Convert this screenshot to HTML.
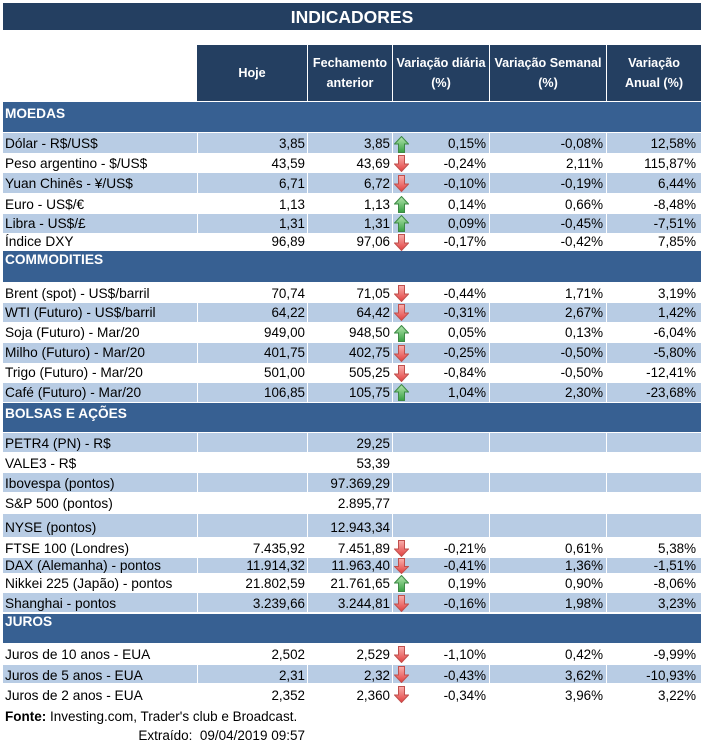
<!DOCTYPE html>
<html><head><meta charset="utf-8">
<style>
body{margin:0;width:704px;height:744px;background:#fff;position:relative;overflow:hidden;font-family:"Liberation Sans",sans-serif;}
.a{position:absolute}
.title{left:3px;top:3px;width:698px;height:27px;background:#243F61;color:#fff;font-weight:bold;font-size:17.5px;line-height:28px;text-align:center}
.hd{position:absolute;top:45px;height:56px;background:#243F61;color:#fff;font-weight:bold;font-size:12.6px;line-height:20px;text-align:center;display:flex;align-items:center;justify-content:center}
.sec{position:absolute;left:3px;width:698px;background:#376092}
.st{position:absolute;left:5px;color:#fff;font-weight:bold;font-size:13.7px;height:18px;line-height:18px}
.b{position:absolute;left:3px;width:698px;background:#B8CCE4}
.b i{position:absolute;top:0;bottom:0;width:1px;background:#fff}
.s1{left:194px}.s2{left:304px}.s3{left:389px}.s4{left:486px}.s5{left:603px}
.t{position:absolute;height:18px;line-height:18px;white-space:nowrap;font-size:13.4px;color:#000}
.l{left:5px;font-size:13.7px}
.c1{right:399px}.c2{right:314px}.c3{right:218px}.c4{right:101px}.c5{right:8px}
svg.ar{position:absolute;left:394px;width:15px}
</style></head><body>
<svg width="0" height="0" style="position:absolute">
<defs>
<linearGradient id="gg" x1="0" y1="0" x2="0" y2="1"><stop offset="0" stop-color="#B4E6AE"/><stop offset="1" stop-color="#37A043"/></linearGradient>
<linearGradient id="rg" x1="0" y1="0" x2="0" y2="1"><stop offset="0" stop-color="#F9B0AE"/><stop offset="1" stop-color="#E2403F"/></linearGradient>
</defs></svg>

<div class="a title">INDICADORES</div>

<div class="hd" style="left:197px;width:110px">Hoje</div>
<div class="hd" style="left:308px;width:84px">Fechamento<br>anterior</div>
<div class="hd" style="left:393px;width:96px">Variação diária<br>(%)</div>
<div class="hd" style="left:490px;width:116px">Variação Semanal<br>(%)</div>
<div class="hd" style="left:607px;width:94px">Variação<br>Anual (%)</div>

<!-- MOEDAS -->
<div class="sec" style="top:102px;height:30px"></div>
<div class="st" style="top:105px">MOEDAS</div>

<div class="b" style="top:133px;height:20px"><i class="s1"></i><i class="s2"></i><i class="s3"></i><i class="s4"></i><i class="s5"></i></div>
<div class="t l" style="top:135px">Dólar - R$/US$</div><div class="t c1" style="top:135px">3,85</div><div class="t c2" style="top:135px">3,85</div>
<svg class="ar" style="top:136px;height:17px" viewBox="0 0 15 17" preserveAspectRatio="none"><path d="M7.5 0.5 L14.5 8 L10.5 8 L10.5 16.5 L4.5 16.5 L4.5 8 L0.5 8 Z" fill="url(#gg)" stroke="#3E8A46" stroke-width="1"/></svg>
<div class="t c3" style="top:135px">0,15%</div><div class="t c4" style="top:135px">-0,08%</div><div class="t c5" style="top:135px">12,58%</div>

<div class="t l" style="top:155px">Peso argentino - $/US$</div><div class="t c1" style="top:155px">43,59</div><div class="t c2" style="top:155px">43,69</div>
<svg class="ar" style="top:155px;height:17px" viewBox="0 0 15 17" preserveAspectRatio="none"><path d="M4.5 0.5 L10.5 0.5 L10.5 9 L14.5 9 L7.5 16.5 L0.5 9 L4.5 9 Z" fill="url(#rg)" stroke="#C0504D" stroke-width="1"/></svg>
<div class="t c3" style="top:155px">-0,24%</div><div class="t c4" style="top:155px">2,11%</div><div class="t c5" style="top:155px">115,87%</div>

<div class="b" style="top:173px;height:20px"><i class="s1"></i><i class="s2"></i><i class="s3"></i><i class="s4"></i><i class="s5"></i></div>
<div class="t l" style="top:175px">Yuan Chinês - ¥/US$</div><div class="t c1" style="top:175px">6,71</div><div class="t c2" style="top:175px">6,72</div>
<svg class="ar" style="top:175px;height:17px" viewBox="0 0 15 17" preserveAspectRatio="none"><path d="M4.5 0.5 L10.5 0.5 L10.5 9 L14.5 9 L7.5 16.5 L0.5 9 L4.5 9 Z" fill="url(#rg)" stroke="#C0504D" stroke-width="1"/></svg>
<div class="t c3" style="top:175px">-0,10%</div><div class="t c4" style="top:175px">-0,19%</div><div class="t c5" style="top:175px">6,44%</div>

<div class="t l" style="top:196px">Euro - US$/€</div><div class="t c1" style="top:196px">1,13</div><div class="t c2" style="top:196px">1,13</div>
<svg class="ar" style="top:196px;height:17px" viewBox="0 0 15 17" preserveAspectRatio="none"><path d="M7.5 0.5 L14.5 8 L10.5 8 L10.5 16.5 L4.5 16.5 L4.5 8 L0.5 8 Z" fill="url(#gg)" stroke="#3E8A46" stroke-width="1"/></svg>
<div class="t c3" style="top:196px">0,14%</div><div class="t c4" style="top:196px">0,66%</div><div class="t c5" style="top:196px">-8,48%</div>

<div class="b" style="top:214px;height:19px"><i class="s1"></i><i class="s2"></i><i class="s3"></i><i class="s4"></i><i class="s5"></i></div>
<div class="t l" style="top:215px">Libra - US$/£</div><div class="t c1" style="top:215px">1,31</div><div class="t c2" style="top:215px">1,31</div>
<svg class="ar" style="top:215px;height:17px" viewBox="0 0 15 17" preserveAspectRatio="none"><path d="M7.5 0.5 L14.5 8 L10.5 8 L10.5 16.5 L4.5 16.5 L4.5 8 L0.5 8 Z" fill="url(#gg)" stroke="#3E8A46" stroke-width="1"/></svg>
<div class="t c3" style="top:215px">0,09%</div><div class="t c4" style="top:215px">-0,45%</div><div class="t c5" style="top:215px">-7,51%</div>

<div class="t l" style="top:233px">Índice DXY</div><div class="t c1" style="top:233px">96,89</div><div class="t c2" style="top:233px">97,06</div>
<svg class="ar" style="top:234px;height:17px" viewBox="0 0 15 17" preserveAspectRatio="none"><path d="M4.5 0.5 L10.5 0.5 L10.5 9 L14.5 9 L7.5 16.5 L0.5 9 L4.5 9 Z" fill="url(#rg)" stroke="#C0504D" stroke-width="1"/></svg>
<div class="t c3" style="top:233px">-0,17%</div><div class="t c4" style="top:233px">-0,42%</div><div class="t c5" style="top:233px">7,85%</div>

<!-- COMMODITIES -->
<div class="sec" style="top:251px;height:31px"></div>
<div class="st" style="top:251px">COMMODITIES</div>

<div class="t l" style="top:285px">Brent (spot) - US$/barril</div><div class="t c1" style="top:285px">70,74</div><div class="t c2" style="top:285px">71,05</div>
<svg class="ar" style="top:285px;height:17px" viewBox="0 0 15 17" preserveAspectRatio="none"><path d="M4.5 0.5 L10.5 0.5 L10.5 9 L14.5 9 L7.5 16.5 L0.5 9 L4.5 9 Z" fill="url(#rg)" stroke="#C0504D" stroke-width="1"/></svg>
<div class="t c3" style="top:285px">-0,44%</div><div class="t c4" style="top:285px">1,71%</div><div class="t c5" style="top:285px">3,19%</div>

<div class="b" style="top:303px;height:19px"><i class="s1"></i><i class="s2"></i><i class="s3"></i><i class="s4"></i><i class="s5"></i></div>
<div class="t l" style="top:304px">WTI (Futuro) - US$/barril</div><div class="t c1" style="top:304px">64,22</div><div class="t c2" style="top:304px">64,42</div>
<svg class="ar" style="top:304px;height:17px" viewBox="0 0 15 17" preserveAspectRatio="none"><path d="M4.5 0.5 L10.5 0.5 L10.5 9 L14.5 9 L7.5 16.5 L0.5 9 L4.5 9 Z" fill="url(#rg)" stroke="#C0504D" stroke-width="1"/></svg>
<div class="t c3" style="top:304px">-0,31%</div><div class="t c4" style="top:304px">2,67%</div><div class="t c5" style="top:304px">1,42%</div>

<div class="t l" style="top:324px">Soja (Futuro) - Mar/20</div><div class="t c1" style="top:324px">949,00</div><div class="t c2" style="top:324px">948,50</div>
<svg class="ar" style="top:325px;height:17px" viewBox="0 0 15 17" preserveAspectRatio="none"><path d="M7.5 0.5 L14.5 8 L10.5 8 L10.5 16.5 L4.5 16.5 L4.5 8 L0.5 8 Z" fill="url(#gg)" stroke="#3E8A46" stroke-width="1"/></svg>
<div class="t c3" style="top:324px">0,05%</div><div class="t c4" style="top:324px">0,13%</div><div class="t c5" style="top:324px">-6,04%</div>

<div class="b" style="top:343px;height:20px"><i class="s1"></i><i class="s2"></i><i class="s3"></i><i class="s4"></i><i class="s5"></i></div>
<div class="t l" style="top:344px">Milho (Futuro) - Mar/20</div><div class="t c1" style="top:344px">401,75</div><div class="t c2" style="top:344px">402,75</div>
<svg class="ar" style="top:345px;height:17px" viewBox="0 0 15 17" preserveAspectRatio="none"><path d="M4.5 0.5 L10.5 0.5 L10.5 9 L14.5 9 L7.5 16.5 L0.5 9 L4.5 9 Z" fill="url(#rg)" stroke="#C0504D" stroke-width="1"/></svg>
<div class="t c3" style="top:344px">-0,25%</div><div class="t c4" style="top:344px">-0,50%</div><div class="t c5" style="top:344px">-5,80%</div>

<div class="t l" style="top:364px">Trigo (Futuro) - Mar/20</div><div class="t c1" style="top:364px">501,00</div><div class="t c2" style="top:364px">505,25</div>
<svg class="ar" style="top:365px;height:17px" viewBox="0 0 15 17" preserveAspectRatio="none"><path d="M4.5 0.5 L10.5 0.5 L10.5 9 L14.5 9 L7.5 16.5 L0.5 9 L4.5 9 Z" fill="url(#rg)" stroke="#C0504D" stroke-width="1"/></svg>
<div class="t c3" style="top:364px">-0,84%</div><div class="t c4" style="top:364px">-0,50%</div><div class="t c5" style="top:364px">-12,41%</div>

<div class="b" style="top:383px;height:19px"><i class="s1"></i><i class="s2"></i><i class="s3"></i><i class="s4"></i><i class="s5"></i></div>
<div class="t l" style="top:384px">Café (Futuro) - Mar/20</div><div class="t c1" style="top:384px">106,85</div><div class="t c2" style="top:384px">105,75</div>
<svg class="ar" style="top:384px;height:17px" viewBox="0 0 15 17" preserveAspectRatio="none"><path d="M7.5 0.5 L14.5 8 L10.5 8 L10.5 16.5 L4.5 16.5 L4.5 8 L0.5 8 Z" fill="url(#gg)" stroke="#3E8A46" stroke-width="1"/></svg>
<div class="t c3" style="top:384px">1,04%</div><div class="t c4" style="top:384px">2,30%</div><div class="t c5" style="top:384px">-23,68%</div>

<!-- BOLSAS -->
<div class="sec" style="top:403px;height:29px"></div>
<div class="st" style="top:405px">BOLSAS E AÇÕES</div>

<div class="b" style="top:433px;height:19px"><i class="s1"></i><i class="s2"></i><i class="s3"></i><i class="s4"></i><i class="s5"></i></div>
<div class="t l" style="top:435px">PETR4 (PN) - R$</div><div class="t c2" style="top:435px">29,25</div>

<div class="t l" style="top:455px">VALE3 - R$</div><div class="t c2" style="top:455px">53,39</div>

<div class="b" style="top:473px;height:19px"><i class="s1"></i><i class="s2"></i><i class="s3"></i><i class="s4"></i><i class="s5"></i></div>
<div class="t l" style="top:475px">Ibovespa (pontos)</div><div class="t c2" style="top:475px">97.369,29</div>

<div class="t l" style="top:495px">S&amp;P 500 (pontos)</div><div class="t c2" style="top:495px">2.895,77</div>

<div class="b" style="top:514px;height:23px"><i class="s1"></i><i class="s2"></i><i class="s3"></i><i class="s4"></i><i class="s5"></i></div>
<div class="t l" style="top:519px">NYSE (pontos)</div><div class="t c2" style="top:519px">12.943,34</div>

<div class="t l" style="top:540px">FTSE 100 (Londres)</div><div class="t c1" style="top:540px">7.435,92</div><div class="t c2" style="top:540px">7.451,89</div>
<svg class="ar" style="top:540px;height:17px" viewBox="0 0 15 17" preserveAspectRatio="none"><path d="M4.5 0.5 L10.5 0.5 L10.5 9 L14.5 9 L7.5 16.5 L0.5 9 L4.5 9 Z" fill="url(#rg)" stroke="#C0504D" stroke-width="1"/></svg>
<div class="t c3" style="top:540px">-0,21%</div><div class="t c4" style="top:540px">0,61%</div><div class="t c5" style="top:540px">5,38%</div>

<div class="b" style="top:558px;height:15px"><i class="s1"></i><i class="s2"></i><i class="s3"></i><i class="s4"></i><i class="s5"></i></div>
<div class="t l" style="top:557px">DAX (Alemanha) - pontos</div><div class="t c1" style="top:557px">11.914,32</div><div class="t c2" style="top:557px">11.963,40</div>
<svg class="ar" style="top:558px;height:16px" viewBox="0 0 15 17" preserveAspectRatio="none"><path d="M4.5 0.5 L10.5 0.5 L10.5 9 L14.5 9 L7.5 16.5 L0.5 9 L4.5 9 Z" fill="url(#rg)" stroke="#C0504D" stroke-width="1"/></svg>
<div class="t c3" style="top:557px">-0,41%</div><div class="t c4" style="top:557px">1,36%</div><div class="t c5" style="top:557px">-1,51%</div>

<div class="t l" style="top:575px">Nikkei 225 (Japão) - pontos</div><div class="t c1" style="top:575px">21.802,59</div><div class="t c2" style="top:575px">21.761,65</div>
<svg class="ar" style="top:575px;height:17px" viewBox="0 0 15 17" preserveAspectRatio="none"><path d="M7.5 0.5 L14.5 8 L10.5 8 L10.5 16.5 L4.5 16.5 L4.5 8 L0.5 8 Z" fill="url(#gg)" stroke="#3E8A46" stroke-width="1"/></svg>
<div class="t c3" style="top:575px">0,19%</div><div class="t c4" style="top:575px">0,90%</div><div class="t c5" style="top:575px">-8,06%</div>

<div class="b" style="top:593px;height:19px"><i class="s1"></i><i class="s2"></i><i class="s3"></i><i class="s4"></i><i class="s5"></i></div>
<div class="t l" style="top:595px">Shanghai - pontos</div><div class="t c1" style="top:595px">3.239,66</div><div class="t c2" style="top:595px">3.244,81</div>
<svg class="ar" style="top:595px;height:17px" viewBox="0 0 15 17" preserveAspectRatio="none"><path d="M4.5 0.5 L10.5 0.5 L10.5 9 L14.5 9 L7.5 16.5 L0.5 9 L4.5 9 Z" fill="url(#rg)" stroke="#C0504D" stroke-width="1"/></svg>
<div class="t c3" style="top:595px">-0,16%</div><div class="t c4" style="top:595px">1,98%</div><div class="t c5" style="top:595px">3,23%</div>

<!-- JUROS -->
<div class="sec" style="top:614px;height:29px"></div>
<div class="st" style="top:613px">JUROS</div>

<div class="t l" style="top:646px">Juros de 10 anos - EUA</div><div class="t c1" style="top:646px">2,502</div><div class="t c2" style="top:646px">2,529</div>
<svg class="ar" style="top:646px;height:17px" viewBox="0 0 15 17" preserveAspectRatio="none"><path d="M4.5 0.5 L10.5 0.5 L10.5 9 L14.5 9 L7.5 16.5 L0.5 9 L4.5 9 Z" fill="url(#rg)" stroke="#C0504D" stroke-width="1"/></svg>
<div class="t c3" style="top:646px">-1,10%</div><div class="t c4" style="top:646px">0,42%</div><div class="t c5" style="top:646px">-9,99%</div>

<div class="b" style="top:665px;height:18px"><i class="s1"></i><i class="s2"></i><i class="s3"></i><i class="s4"></i><i class="s5"></i></div>
<div class="t l" style="top:667px">Juros de 5 anos - EUA</div><div class="t c1" style="top:667px">2,31</div><div class="t c2" style="top:667px">2,32</div>
<svg class="ar" style="top:666px;height:17px" viewBox="0 0 15 17" preserveAspectRatio="none"><path d="M4.5 0.5 L10.5 0.5 L10.5 9 L14.5 9 L7.5 16.5 L0.5 9 L4.5 9 Z" fill="url(#rg)" stroke="#C0504D" stroke-width="1"/></svg>
<div class="t c3" style="top:667px">-0,43%</div><div class="t c4" style="top:667px">3,62%</div><div class="t c5" style="top:667px">-10,93%</div>

<div class="t l" style="top:687px">Juros de 2 anos - EUA</div><div class="t c1" style="top:687px">2,352</div><div class="t c2" style="top:687px">2,360</div>
<svg class="ar" style="top:686px;height:17px" viewBox="0 0 15 17" preserveAspectRatio="none"><path d="M4.5 0.5 L10.5 0.5 L10.5 9 L14.5 9 L7.5 16.5 L0.5 9 L4.5 9 Z" fill="url(#rg)" stroke="#C0504D" stroke-width="1"/></svg>
<div class="t c3" style="top:687px">-0,34%</div><div class="t c4" style="top:687px">3,96%</div><div class="t c5" style="top:687px">3,22%</div>

<!-- footer -->
<div class="t l" style="top:708px;font-size:13.5px"><b>Fonte:</b> Investing.com, Trader's club e Broadcast.</div>
<div class="t c1" style="top:727px;font-size:13.5px">Extraído:&nbsp;&nbsp;09/04/2019 09:57</div>
</body></html>
